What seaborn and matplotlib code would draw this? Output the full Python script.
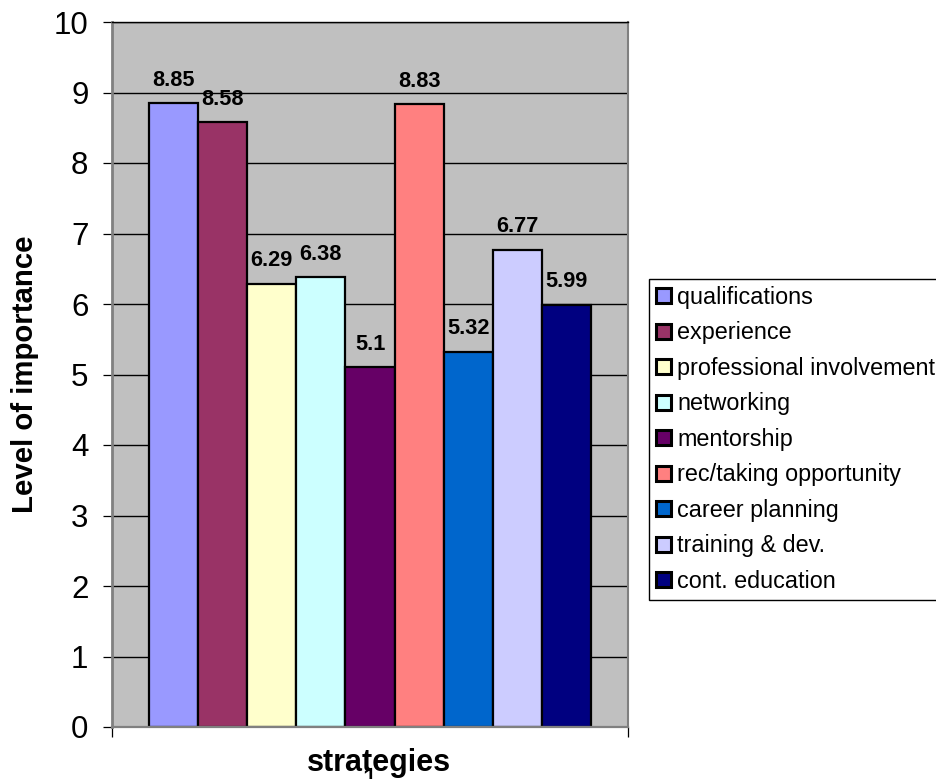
import matplotlib
matplotlib.use("Agg")
import matplotlib.pyplot as plt
import numpy as np
import pandas as pd
import seaborn as sns

# Survey results: importance rating of each career strategy
strategies = [
    "qualifications",
    "experience",
    "professional involvement",
    "networking",
    "mentorship",
    "rec/taking opportunity",
    "career planning",
    "training & dev.",
    "cont. education",
]
importance = [8.85, 8.58, 6.29, 6.38, 5.1, 8.83, 5.32, 6.77, 5.99]
bar_colors = [
    "#9999FF", "#993366", "#FFFFCC", "#CCFFFF", "#660066",
    "#FF8080", "#0066CC", "#CCCCFF", "#000080",
]
group_label = "1"
y_ticks = list(range(0, 11))

df = pd.DataFrame({
    "group": [group_label] * len(strategies),
    "strategy": strategies,
    "importance": importance,
})

sns.set_style("white")
plt.rcParams["font.family"] = ["Liberation Sans", "DejaVu Sans"]
plt.rcParams.update({
    "text.color": "black",
    "axes.labelcolor": "black",
    "xtick.color": "black",
    "ytick.color": "black",
    "xtick.labelcolor": "black",
    "ytick.labelcolor": "black",
})

fig = plt.figure(figsize=(9.36, 7.79), dpi=100)
ax = fig.add_axes([112 / 936, 52 / 779, 516 / 936, 705 / 779])
ax.set_facecolor("#C0C0C0")

sns.barplot(
    data=df, x="group", y="importance", hue="strategy",
    hue_order=strategies, palette=dict(zip(strategies, bar_colors)),
    width=0.857, dodge=True, saturation=1, errorbar=None,
    edgecolor="black", linewidth=1.6, ax=ax,
)

# value labels above each bar
for cont, v in zip(ax.containers, importance):
    ax.bar_label(cont, labels=[f"{v:g}"], padding=9,
                 fontsize=15.7, fontweight="bold", color="black")

ax.set_xlim(-0.5, 0.5)
ax.set_ylim(0, 10)
ax.set_yticks(y_ticks)
ax.yaxis.grid(True, color="black", linewidth=1.0)
ax.set_axisbelow(True)

ax.tick_params(axis="y", which="major", direction="out", length=6.5,
               width=0.9, color="black", pad=10.5, labelsize=22.5,
               labelcolor="black", left=True)
ax.set_xticks([0])
ax.set_xticklabels([group_label])
ax.tick_params(axis="x", which="major", length=0, pad=28, labelsize=21.6,
               labelcolor="black", bottom=True)
ax.set_xticks([-0.5, 0.5], minor=True)
ax.tick_params(axis="x", which="minor", direction="out", length=7.2,
               width=0.9, color="black", bottom=True)

for side in ("left", "bottom", "right"):
    ax.spines[side].set_visible(True)
    ax.spines[side].set_color("#808080")
ax.spines["left"].set_linewidth(2.0)
ax.spines["bottom"].set_linewidth(1.6)
ax.spines["right"].set_linewidth(1.5)
ax.spines["top"].set_visible(True)
ax.spines["top"].set_color("black")
ax.spines["top"].set_linewidth(1.0)

ax.set_xlabel("strategies", fontsize=22, fontweight="bold", color="black")
ax.xaxis.set_label_coords(0.5165, -0.030)
ax.set_ylabel("Level of importance", fontsize=21.2, fontweight="bold",
              color="black")
ax.yaxis.set_label_coords(-0.1415, 0.5)

handles, labels = ax.get_legend_handles_labels()
if ax.get_legend() is not None:
    ax.get_legend().remove()
leg = fig.legend(
    handles, labels, loc="upper left",
    bbox_to_anchor=(649 / 936, 1 - 279 / 779), bbox_transform=fig.transFigure,
    frameon=True, fancybox=False, framealpha=1, edgecolor="black",
    fontsize=16.8, handlelength=0.65, handleheight=0.62, handletextpad=0.26,
    labelspacing=0.535, borderpad=0.3, borderaxespad=0,
)
leg.get_frame().set_linewidth(1.0)
for h in leg.legend_handles:
    h.set_edgecolor("black")
    h.set_linewidth(2.2)

fig.savefig("out.png", dpi=100)
